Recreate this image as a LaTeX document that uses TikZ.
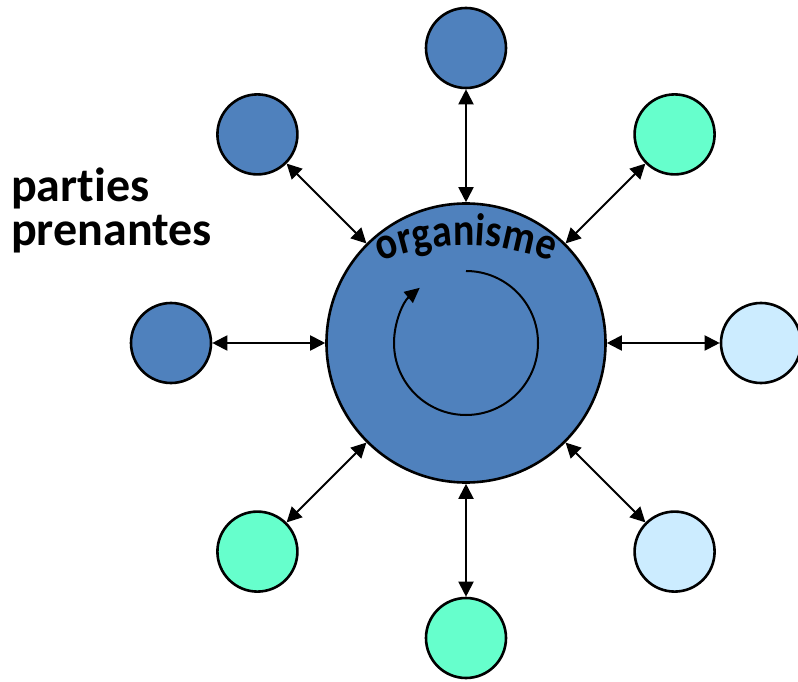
\documentclass[tikz,border=0pt]{standalone}
\usepackage{fontspec}
\newfontfamily\carlito[Ligatures=NoCommon]{Carlito}
\usetikzlibrary{arrows.meta,decorations.text,calc}
\definecolor{dblue}{HTML}{4F81BD}
\definecolor{aqua}{HTML}{66FFCC}
\definecolor{lblue}{HTML}{CCECFF}
\newcommand\orgfont{\carlito\bfseries\fontsize{40}{44}\selectfont}
\begin{document}
\begin{tikzpicture}[x=1pt,y=1pt,
  sat/.style={circle,draw=black,line width=2.6pt,minimum size=80pt,inner sep=0pt},
  link/.style={{Triangle[length=15pt,width=15pt]}-{Triangle[length=15pt,width=15pt]},line width=2pt},
  cycle/.style={line width=2pt,-{Triangle[length=15pt,width=14pt]}},
  label/.style={font=\carlito\bfseries\fontsize{48}{44}\selectfont,align=left,inner sep=0pt}
]
\useasboundingbox (0,0) rectangle (798,681);
\node[circle,draw=black,line width=2.6pt,fill=dblue,minimum size=279pt,inner sep=0pt] (org) at (466,338) {};
\foreach \n/\a/\c in {s1/90/dblue, s2/45/aqua, s3/0/lblue, s4/-45/lblue, s5/-90/aqua, s6/-135/aqua, s7/180/dblue, s8/135/dblue}
  \node[sat,fill=\c] (\n) at ($(org.center)+(\a:295)$) {};
\foreach \n in {s1,s2,s3,s4,s5,s6,s7,s8}
  \draw[link] (org) -- (\n);
\draw[cycle] ($(org.center)+(90:72)$) arc[start angle=90,end angle=-230,radius=72];
\path[decorate,decoration={text effects along path,text={organisme},text align=center,
    text effects/.cd, every character/.style={font=\orgfont,anchor=base,transform shape,yscale=1.15,inner sep=0pt}}]
  ($(org.center)+(0,-127)+(125:225)$) arc[start angle=125,end angle=55,radius=225];
\node[label,anchor=base west] (pp) at (11,435) {parties\\prenantes};
\end{tikzpicture}
\end{document}
